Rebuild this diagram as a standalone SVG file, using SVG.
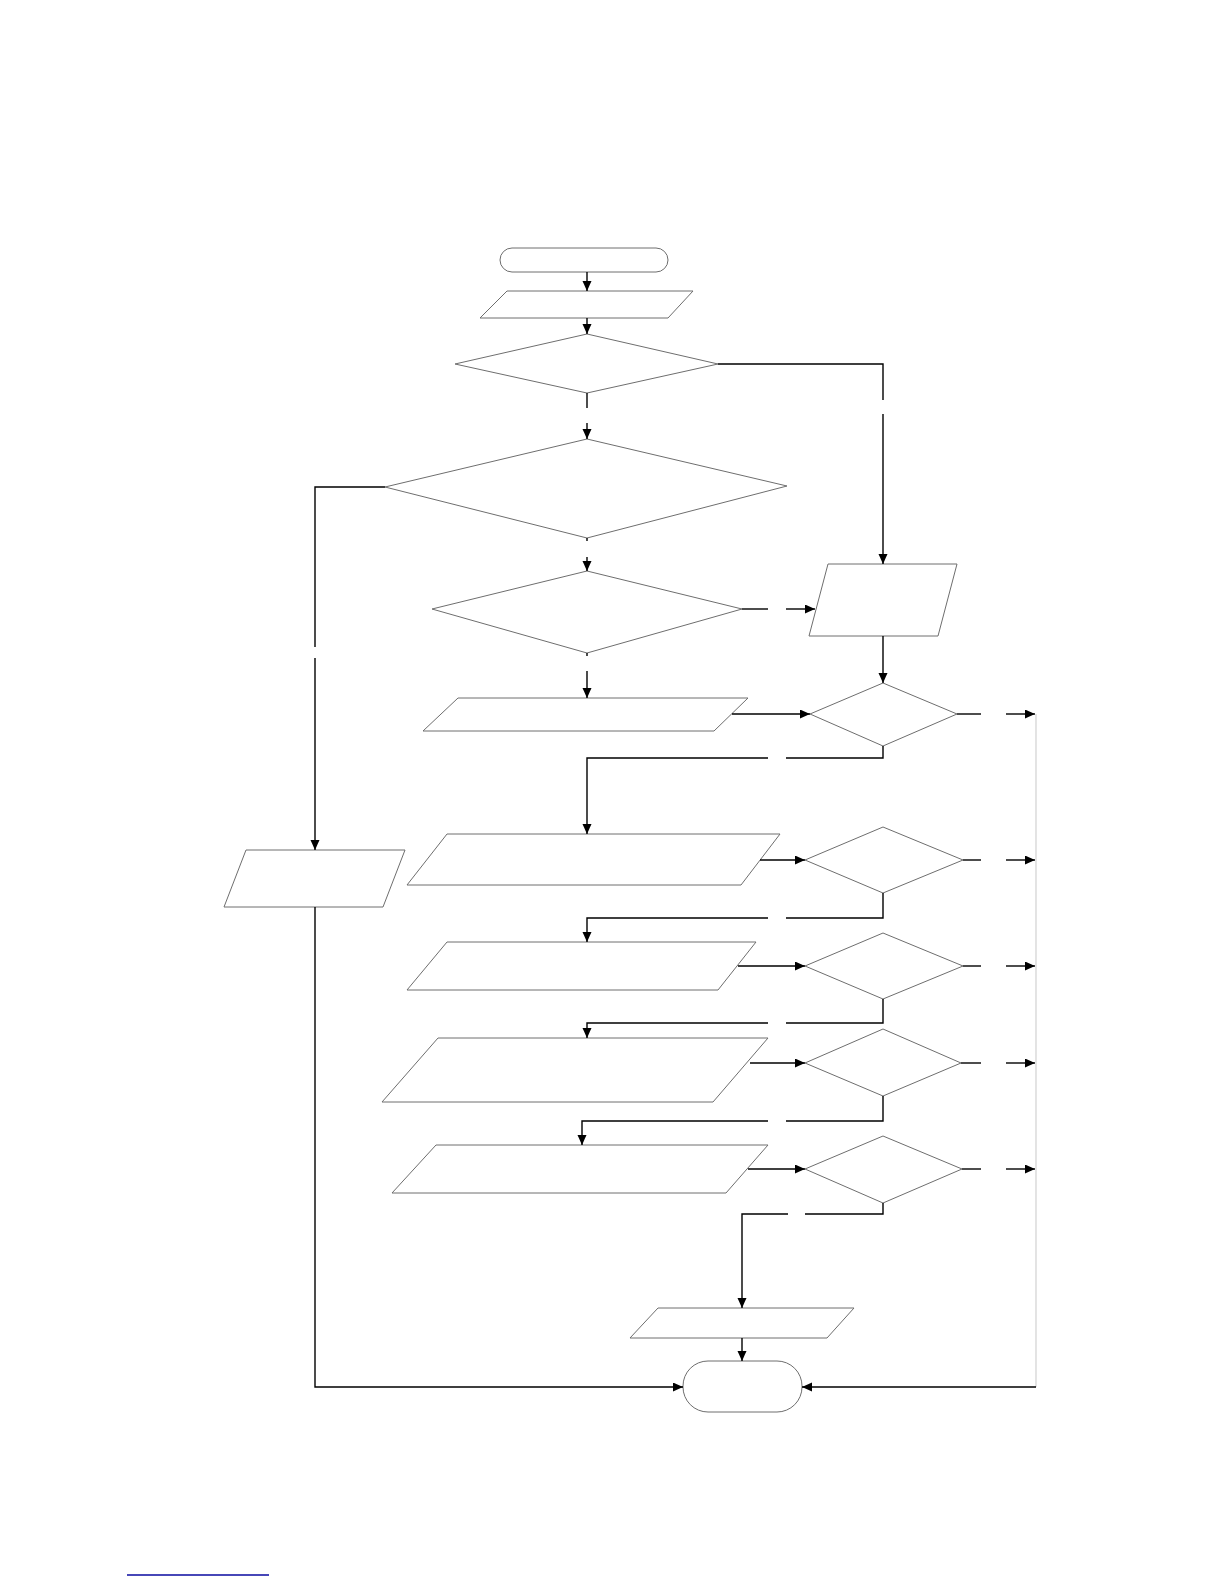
<svg xmlns="http://www.w3.org/2000/svg" width="1224" height="1584" viewBox="0 0 1224 1584">
<style>
.n{fill:#fff;stroke:#6e6e6e;stroke-width:1}
.c{fill:none;stroke:#000;stroke-width:1.4}
.a{marker-end:url(#ah)}
.g{fill:none;stroke:#d8d8d8;stroke-width:1.4}
</style>
<defs>
<marker id="ah" markerUnits="userSpaceOnUse" markerWidth="11" markerHeight="10" refX="10" refY="4.5" orient="auto">
<path d="M0,0 L10,4.5 L0,9 z" fill="#000"/>
</marker>
</defs>
<rect width="1224" height="1584" fill="#fff"/>
<g id="nodes">
<g id="start"><rect class="n" x="500" y="248" width="168" height="24" rx="12"/></g>
<g id="p1"><polygon class="n" points="507,291 693,291 668,318 480,318"/></g>
<g id="d1"><polygon class="n" points="587,334 718,364 587,393 455,364"/></g>
<g id="d2"><polygon class="n" points="587,439 787,486 587,538 385,487"/></g>
<g id="d3"><polygon class="n" points="587,571 742,609 587,653 432,609"/></g>
<g id="p2"><polygon class="n" points="828,564 957,564 938,636 809,636"/></g>
<g id="p3"><polygon class="n" points="458,698 748,698 714,731 423,731"/></g>
<g id="d4"><polygon class="n" points="883,683 957,714 883,746 810,714"/></g>
<g id="pl"><polygon class="n" points="246,850 405,850 383,907 224,907"/></g>
<g id="p4"><polygon class="n" points="447,834 780,834 741,885 407,885"/></g>
<g id="d5"><polygon class="n" points="883,827 963,860 883,893 805,860"/></g>
<g id="p5"><polygon class="n" points="447,942 756,942 718,990 407,990"/></g>
<g id="d6"><polygon class="n" points="883,933 963,966 883,999 805,966"/></g>
<g id="p6"><polygon class="n" points="438,1038 768,1038 713,1102 382,1102"/></g>
<g id="d7"><polygon class="n" points="883,1029 961,1063 883,1096 805,1063"/></g>
<g id="p7"><polygon class="n" points="436,1145 768,1145 726,1193 392,1193"/></g>
<g id="d8"><polygon class="n" points="883,1136 962,1169 883,1203 805,1169"/></g>
<g id="p8"><polygon class="n" points="658,1308 854,1308 827,1338 630,1338"/></g>
<g id="end"><rect class="n" x="683" y="1361" width="119" height="51" rx="25"/></g>
</g>
<g id="connectors">
<line class="c a" x1="587" y1="272" x2="587" y2="291"/>
<line class="c a" x1="587" y1="318" x2="587" y2="334"/>
<line class="c" x1="587" y1="393" x2="587" y2="408"/>
<line class="c a" x1="587" y1="423" x2="587" y2="439"/>
<polyline class="c" points="718,364 883,364 883,400"/>
<line class="c a" x1="883" y1="414" x2="883" y2="564"/>
<line class="c" x1="587" y1="538" x2="587" y2="541"/>
<line class="c a" x1="587" y1="557" x2="587" y2="571"/>
<polyline class="c" points="385,487 315,487 315,647"/>
<line class="c a" x1="315" y1="658" x2="315" y2="850"/>
<line class="c" x1="742" y1="609" x2="768" y2="609"/>
<line class="c a" x1="786" y1="609" x2="815" y2="609"/>
<line class="c" x1="587" y1="653" x2="587" y2="656"/>
<line class="c a" x1="587" y1="671" x2="587" y2="698"/>
<line class="c a" x1="883" y1="636" x2="883" y2="683"/>
<line class="c a" x1="732" y1="714" x2="810" y2="714"/>
<line class="c" x1="957" y1="714" x2="981" y2="714"/>
<line class="c a" x1="1006" y1="714" x2="1035" y2="714"/>
<polyline class="c" points="883,746 883,758 786,758"/>
<polyline class="c a" points="768,758 587,758 587,834"/>
<line class="c a" x1="760" y1="860" x2="805" y2="860"/>
<line class="c" x1="963" y1="860" x2="981" y2="860"/>
<line class="c a" x1="1006" y1="860" x2="1035" y2="860"/>
<polyline class="c" points="883,893 883,918 786,918"/>
<polyline class="c a" points="768,918 587,918 587,942"/>
<line class="c a" x1="738" y1="966" x2="805" y2="966"/>
<line class="c" x1="963" y1="966" x2="981" y2="966"/>
<line class="c a" x1="1006" y1="966" x2="1035" y2="966"/>
<polyline class="c" points="883,999 883,1023 786,1023"/>
<polyline class="c a" points="768,1023 587,1023 587,1038"/>
<line class="c a" x1="750" y1="1063" x2="805" y2="1063"/>
<line class="c" x1="961" y1="1063" x2="981" y2="1063"/>
<line class="c a" x1="1006" y1="1063" x2="1035" y2="1063"/>
<polyline class="c" points="883,1096 883,1121 786,1121"/>
<polyline class="c a" points="768,1121 582,1121 582,1145"/>
<line class="c a" x1="748" y1="1169" x2="805" y2="1169"/>
<line class="c" x1="962" y1="1169" x2="981" y2="1169"/>
<line class="c a" x1="1006" y1="1169" x2="1035" y2="1169"/>
<polyline class="c" points="883,1203 883,1214 805,1214"/>
<polyline class="c a" points="788,1214 742,1214 742,1308"/>
<line class="c a" x1="742" y1="1338" x2="742" y2="1361"/>
<polyline class="c a" points="315,907 315,1387 683,1387"/>
<line class="g" x1="1036" y1="714" x2="1036" y2="1387"/>
<line class="c a" x1="1036" y1="1387" x2="802" y2="1387"/>
</g>
<line x1="127" y1="1575" x2="269" y2="1575" stroke="#0a0aa0" stroke-width="1.5"/>
</svg>
